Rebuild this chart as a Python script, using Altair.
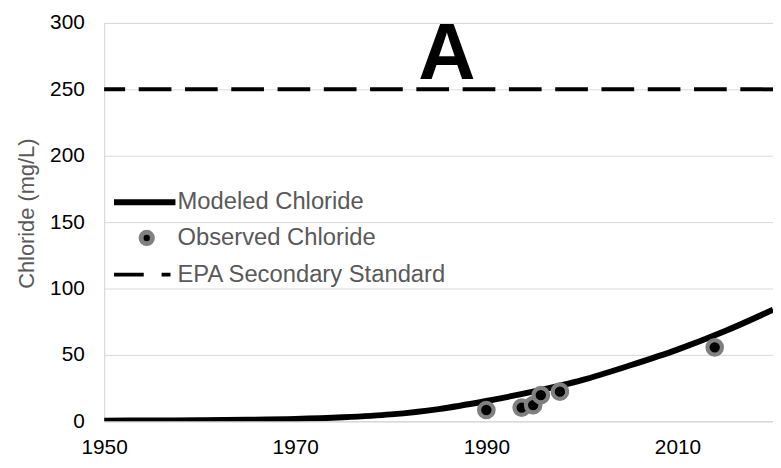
import altair as alt
import pandas as pd

# ---- data ----
model_years = [1950, 1955, 1960, 1965, 1970, 1975, 1980, 1985, 1990, 1995, 2000, 2005, 2010, 2015, 2020]
model_chloride = [0.5, 0.6, 0.8, 1.1, 1.7, 3.0, 5.2, 9.2, 15.3, 22.5, 31.0, 42.0, 54.0, 68.0, 84.0]

obs_years = [1990.0, 1993.7, 1994.9, 1995.7, 1997.7, 2013.9]
obs_chloride = [8.5, 10.3, 12.2, 19.7, 22.3, 55.7]

epa_standard = [250]

legend_labels = ["Modeled Chloride", "Observed Chloride", "EPA Secondary Standard"]
panel_label = "A"

x_ticks = [1950, 1970, 1990, 2010]
y_ticks = [0, 50, 100, 150, 200, 250, 300]

FONT = "Liberation Sans"
GRID = "#d9d9d9"
TEXT_GRAY = "#595959"

model_df = pd.DataFrame({"year": model_years, "chloride": model_chloride})
obs_df = pd.DataFrame({"year": obs_years, "chloride": obs_chloride})
epa_df = pd.DataFrame({"chloride": epa_standard})
one = pd.DataFrame({"k": [0]})

xscale = alt.Scale(domain=[1950, 2020], nice=False, zero=False)
yscale = alt.Scale(domain=[0, 300], nice=False)

x_axis = alt.Axis(values=x_ticks, format="d", title=None, grid=False, ticks=False,
                  domainColor=GRID, domainWidth=1, labelFontSize=21, labelColor="#000000",
                  labelFont=FONT, labelPadding=16, labelFlush=False)
y_axis = alt.Axis(values=y_ticks, title="Chloride (mg/L)", grid=True, gridColor=GRID, gridWidth=1,
                  ticks=False, domainColor=GRID, domainWidth=1, labelFontSize=21,
                  labelColor="#000000", labelFont=FONT, labelPadding=20, labelFlush=False,
                  titleFont=FONT, titleFontSize=22, titleFontWeight="normal", titleColor=TEXT_GRAY,
                  titleX=-78, titleY=192, titleBaseline="middle", titleAlign="center")

epa = alt.Chart(epa_df).mark_rule(color="black", strokeWidth=4, strokeDash=[33, 13.7]).encode(
    y=alt.Y("chloride:Q", scale=yscale, axis=y_axis)
)

model = alt.Chart(model_df).mark_line(color="black", strokeWidth=6, interpolate="monotone", clip=True).encode(
    x=alt.X("year:Q", scale=xscale, axis=x_axis),
    y=alt.Y("chloride:Q", scale=yscale, axis=y_axis),
)

obs = alt.Chart(obs_df).mark_point(shape="circle", fill="black", stroke="#808080", strokeWidth=4.2,
                                    size=215, opacity=1, fillOpacity=1, clip=True).encode(
    x=alt.X("year:Q", scale=xscale),
    y=alt.Y("chloride:Q", scale=yscale),
)

# ---- custom legend (inside plot) ----
leg_line = alt.Chart(one).mark_rule(color="black", strokeWidth=6).encode(
    x=alt.value(10), x2=alt.value(72), y=alt.value(181))
leg_point = alt.Chart(one).mark_point(shape="circle", fill="black", stroke="#808080", strokeWidth=5,
                                       size=130, opacity=1, fillOpacity=1).encode(
    x=alt.value(43), y=alt.value(217))
leg_dash = alt.Chart(one).mark_rule(color="black", strokeWidth=4, strokeDash=[30, 18]).encode(
    x=alt.value(10), x2=alt.value(67), y=alt.value(254))

leg_texts = []
for lab, yy in zip(legend_labels, [181, 217, 254]):
    leg_texts.append(
        alt.Chart(one).mark_text(text=lab, align="left", baseline="middle", font=FONT,
                                 fontSize=24, color=TEXT_GRAY).encode(
            x=alt.value(74), y=alt.value(yy))
    )

label_a = alt.Chart(one).mark_text(text=panel_label, align="center", baseline="alphabetic", font=FONT,
                                   fontSize=80, fontWeight="bold", color="black").encode(
    x=alt.value(346), y=alt.value(57))

chart = alt.layer(epa, model, obs, leg_line, leg_point, leg_dash, *leg_texts, label_a).properties(
    width=675, height=402,
    autosize=alt.AutoSizeParams(type="none"),
    padding={"left": 97, "top": 13, "right": 0, "bottom": 40},
).configure_view(stroke=None).configure(background="white")

chart.save("out.html", embed_options={"renderer": "svg", "actions": False})
